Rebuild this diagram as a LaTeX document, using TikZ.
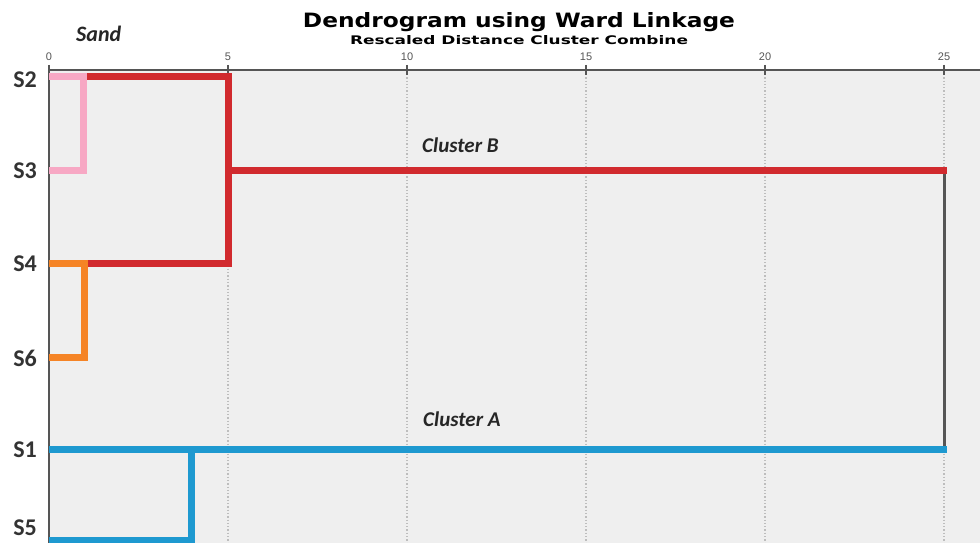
\documentclass[tikz,border=0pt]{standalone}
\usepackage{fontspec}
\setmainfont{Carlito}
\newfontfamily\headfont{DejaVu Sans}
\newfontfamily\tickfont{Liberation Sans}
\definecolor{plotbg}{HTML}{EFEFEF}
\definecolor{axisgray}{HTML}{555555}
\definecolor{gridgray}{HTML}{BDBDBD}
\definecolor{cred}{HTML}{D12A2E}
\definecolor{cpink}{HTML}{F7A8C4}
\definecolor{corange}{HTML}{F58426}
\definecolor{cblue}{HTML}{1E99D0}
\begin{document}
\begin{tikzpicture}[x=1pt,y=-1pt,
  axisline/.style={draw=axisgray,line width=2pt},
  gridline/.style={draw=gridgray,line width=1.3pt,dotted},
  tickmark/.style={draw=axisgray,line width=1.6pt},
  ticklabel/.style={anchor=base,inner sep=0pt,text=axisgray,font=\tickfont\fontsize{11}{11}\selectfont},
  leaflabel/.style={anchor=east,inner sep=0pt,text=black!80,font=\fontsize{24}{24}\selectfont\bfseries},
  notelabel/.style={anchor=base west,inner sep=0pt,text=black!85,font=\fontsize{21}{21}\selectfont\bfseries\itshape},
  branch/.style={line width=7pt,line join=miter},
  joinline/.style={draw=axisgray,line width=3pt}]
\useasboundingbox (0,0) rectangle (980,543);
% plot area
\fill[plotbg] (49,70) rectangle (980,543);
% grid and axis ticks
\foreach \v in {0,5,10,15,20,25}{
  \pgfmathsetmacro{\xx}{49+35.8*\v}
  \ifnum\v>0 \draw[gridline] (\xx,74) -- (\xx,543);\fi
  \draw[tickmark] (\xx,65) -- (\xx,75);
  \node[ticklabel] (t\v) at (\xx,60) {\v};
}
\draw[axisline] (48,70) -- (980,70);
\draw[axisline] (49,69) -- (49,543);
% titles
\node[anchor=base,inner sep=0pt] (title) at (519,28)
  {\resizebox{432pt}{15pt}{\headfont\bfseries Dendrogram using Ward Linkage}};
\node[anchor=base,inner sep=0pt] (subtitle) at (519,45)
  {\resizebox{338pt}{9pt}{\headfont\bfseries Rescaled Distance Cluster Combine}};
\node[anchor=base west,inner sep=0pt,text=black!85,font=\fontsize{22}{22}\selectfont\bfseries\itshape] (sand) at (76,42) {Sand};
% leaves
\coordinate (S2) at (49,77);
\coordinate (S3) at (49,170);
\coordinate (S4) at (49,263);
\coordinate (S6) at (49,357);
\coordinate (S1) at (49,449);
\coordinate (S5) at (49,540);
\node[leaflabel] (lS2) at (37,80) {S2};
\node[leaflabel] (lS3) at (37,171) {S3};
\node[leaflabel] (lS4) at (37,264) {S4};
\node[leaflabel] (lS6) at (37,358) {S6};
\node[leaflabel] (lS1) at (37,450) {S1};
\node[leaflabel] (lS5) at (37,528) {S5};
% merge points
\coordinate (m23) at (83,0);
\coordinate (m46) at (84,0);
\coordinate (m15) at (191,0);
\coordinate (mB) at (228,0);
\coordinate (top) at (944,0);
\coordinate (cB) at (228,170);
% top level link
\draw[joinline] (top |- cB) -- (top |- S1);
% cluster B
\draw[branch,cred] (m23 |- S2) -- (mB |- S2) -- (mB |- S4) -- (m46 |- S4);
\draw[branch,cred] (cB) -- ([xshift=3pt]top |- cB);
\draw[branch,cpink] (S2) -- (m23 |- S2) -- (m23 |- S3) -- (S3);
\draw[branch,corange] (S4) -- (m46 |- S4) -- (m46 |- S6) -- (S6);
% cluster A
\draw[branch,cblue] (S1) -- ([xshift=3pt]top |- S1);
\draw[branch,cblue] (m15 |- S1) -- (m15 |- S5) -- (S5);
% cluster labels
\node[notelabel] (labB) at (422,152) {Cluster B};
\node[notelabel] (labA) at (423,426) {Cluster A};
\end{tikzpicture}
\end{document}
